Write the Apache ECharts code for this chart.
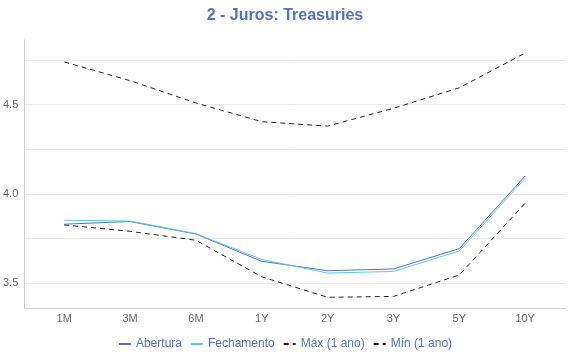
<!DOCTYPE html>
<html><head><meta charset="utf-8">
<script src="https://cdn.jsdelivr.net/npm/echarts@6/dist/echarts.min.js"></script>
<style>html,body{margin:0;padding:0;background:#fff}#c{width:570px;height:360px}</style>
</head><body><div id="c"></div>
<script>
const categories = ['1M','3M','6M','1Y','2Y','3Y','5Y','10Y'];
const abertura   = [3.83, 3.845, 3.775, 3.622, 3.569, 3.579, 3.693, 4.10];
const fechamento = [3.852, 3.848, 3.777, 3.632, 3.556, 3.565, 3.68, 4.088];
const maxAno     = [4.74, 4.635, 4.51, 4.405, 4.38, 4.48, 4.595, 4.79];
const minAno     = [3.826, 3.79, 3.74, 3.535, 3.42, 3.425, 3.545, 3.948];
const yTicks = [3.5, 3.75, 4.0, 4.25, 4.5, 4.75];
const yLabels = [3.5, 4.0, 4.5];

const pairs = arr => arr.map((v, i) => [i, v]);
const font = 'Liberation Sans, Arial, sans-serif';
const chart = echarts.init(document.getElementById('c'), null, {renderer: 'canvas'});
chart.setOption({
  animation: false,
  textStyle: {fontFamily: font},
  title: {
    text: '2 - Juros: Treasuries', left: 'center', top: 3,
    textStyle: {color: '#5470c6', fontSize: 16, fontWeight: 'bold', fontFamily: font}
  },
  legend: {
    bottom: 5, left: 'center', itemWidth: 12, itemHeight: 8, itemGap: 8,
    itemStyle: {opacity: 0},
    textStyle: {color: '#5470c6', fontSize: 12, fontFamily: font},
    data: ['Abertura', 'Fechamento', 'Máx (1 ano)', 'Mín (1 ano)']
  },
  grid: {left: 23, right: 4, top: 40, bottom: 52, containLabel: false},
  xAxis: {
    type: 'value', min: -0.606, max: 7.62,
    axisLine: {show: true, onZero: false, lineStyle: {color: '#ccc'}},
    axisTick: {show: false},
    splitLine: {show: false},
    axisLabel: {
      customValues: categories.map((c, i) => i),
      formatter: v => categories[Math.round(v)],
      color: '#666', fontSize: 11, margin: 5
    }
  },
  yAxis: {
    type: 'value', min: 3.36, max: 4.863,
    axisLine: {show: true, onZero: false, lineStyle: {color: '#ccc'}},
    axisTick: {show: false, customValues: yTicks},
    splitLine: {show: true, lineStyle: {color: '#ebebeb'}},
    axisLabel: {customValues: yLabels, formatter: v => v.toFixed(1), color: '#666', fontSize: 11, margin: 6}
  },
  series: [
    {name: 'Abertura', type: 'line', data: pairs(abertura), symbol: 'none',
     lineStyle: {color: '#5470c6', width: 1}, itemStyle: {color: '#5470c6'}},
    {name: 'Fechamento', type: 'line', data: pairs(fechamento), symbol: 'none',
     lineStyle: {color: '#5bc8e8', width: 1}, itemStyle: {color: '#5bc8e8'}},
    {name: 'Máx (1 ano)', type: 'line', data: pairs(maxAno), symbol: 'none',
     lineStyle: {color: '#222', width: 1, type: [5, 4]}, itemStyle: {color: '#222'}},
    {name: 'Mín (1 ano)', type: 'line', data: pairs(minAno), symbol: 'none',
     lineStyle: {color: '#222', width: 1, type: [5, 4]}, itemStyle: {color: '#222'}}
  ]
});
</script></body></html>
